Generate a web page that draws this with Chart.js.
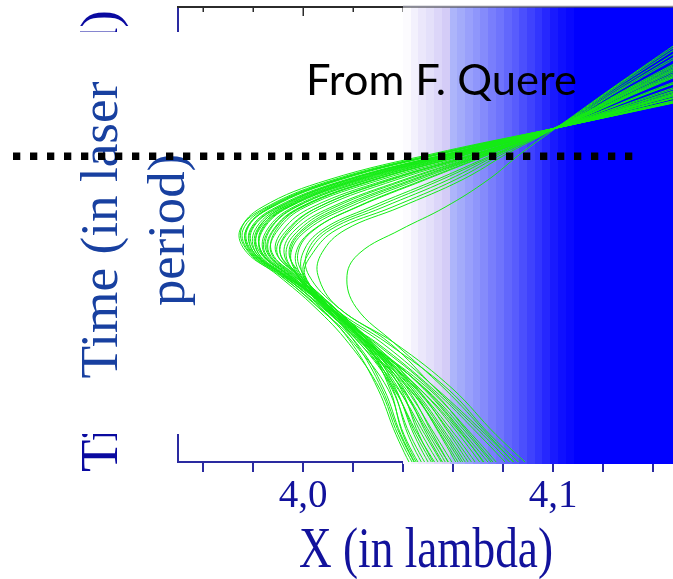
<!DOCTYPE html>
<html>
<head>
<meta charset="utf-8">
<script src="https://cdn.jsdelivr.net/npm/chart.js@4.4.1/dist/chart.umd.min.js"></script>
<style>
html,body{margin:0;padding:0;background:#fff;}
canvas{display:block;}
</style>
</head>
<body>
<canvas id="c" width="673" height="579"></canvas>
<script>
// Sample times (laser periods) shared by every electron trajectory
const times = [-0.04, 0.06, 0.16, 0.26, 0.34, 0.41, 0.46, 0.51, 0.56, 0.62, 0.68, 0.74, 0.82, 0.92];

// Electron position x(t) in lambda, one array per trajectory
const traj01 = [4.0500, 4.0404, 4.0340, 4.0204, 4.0064, 3.9908, 3.9776, 3.9748, 3.9852, 4.0120, 4.0556, 4.1064, 4.1740, 4.2604];
const traj02 = [4.0484, 4.0392, 4.0324, 4.0216, 4.0060, 3.9912, 3.9788, 3.9760, 3.9860, 4.0132, 4.0564, 4.1064, 4.1732, 4.2588];
const traj03 = [4.0528, 4.0428, 4.0356, 4.0240, 4.0096, 3.9916, 3.9792, 3.9772, 3.9876, 4.0148, 4.0576, 4.1060, 4.1684, 4.2484];
const traj04 = [4.0512, 4.0420, 4.0360, 4.0252, 4.0108, 3.9928, 3.9800, 3.9776, 3.9872, 4.0140, 4.0568, 4.1060, 4.1696, 4.2508];
const traj05 = [4.0556, 4.0452, 4.0368, 4.0244, 4.0096, 3.9928, 3.9804, 3.9792, 3.9900, 4.0176, 4.0600, 4.1056, 4.1632, 4.2368];
const traj06 = [4.0572, 4.0460, 4.0364, 4.0228, 4.0080, 3.9920, 3.9812, 3.9808, 3.9912, 4.0184, 4.0608, 4.1056, 4.1624, 4.2348];
const traj07 = [4.0584, 4.0476, 4.0384, 4.0248, 4.0100, 3.9936, 3.9820, 3.9816, 3.9924, 4.0204, 4.0620, 4.1052, 4.1576, 4.2248];
const traj08 = [4.0560, 4.0464, 4.0392, 4.0268, 4.0120, 3.9948, 3.9828, 3.9820, 3.9920, 4.0196, 4.0612, 4.1052, 4.1588, 4.2268];
const traj09 = [4.0612, 4.0504, 4.0396, 4.0252, 4.0100, 3.9944, 3.9832, 3.9840, 3.9944, 4.0232, 4.0644, 4.1048, 4.1520, 4.2128];
const traj10 = [4.0628, 4.0512, 4.0400, 4.0240, 4.0092, 3.9944, 3.9844, 3.9856, 3.9960, 4.0244, 4.0652, 4.1048, 4.1508, 4.2108];
const traj11 = [4.0640, 4.0528, 4.0412, 4.0256, 4.0104, 3.9952, 3.9848, 3.9864, 3.9968, 4.0260, 4.0664, 4.1044, 4.1468, 4.2012];
const traj12 = [4.0664, 4.0552, 4.0428, 4.0256, 4.0108, 3.9964, 3.9864, 3.9884, 3.9992, 4.0288, 4.0684, 4.1040, 4.1412, 4.1892];
const traj13 = [4.0652, 4.0548, 4.0436, 4.0276, 4.0124, 3.9972, 3.9876, 3.9892, 3.9996, 4.0284, 4.0676, 4.1040, 4.1424, 4.1916];
const traj14 = [4.0684, 4.0568, 4.0436, 4.0260, 4.0108, 3.9968, 3.9872, 3.9900, 4.0008, 4.0308, 4.0700, 4.1036, 4.1376, 4.1812];
const traj15 = [4.0724, 4.0596, 4.0452, 4.0264, 4.0104, 3.9976, 3.9896, 3.9936, 4.0060, 4.0352, 4.0716, 4.1036, 4.1356, 4.1768];
const traj16 = [4.0708, 4.0588, 4.0460, 4.0284, 4.0124, 3.9988, 3.9908, 3.9944, 4.0060, 4.0344, 4.0708, 4.1036, 4.1364, 4.1788];
const traj17 = [4.0760, 4.0624, 4.0468, 4.0264, 4.0100, 3.9980, 3.9924, 3.9968, 4.0112, 4.0400, 4.0732, 4.1032, 4.1336, 4.1724];
const traj18 = [4.0780, 4.0636, 4.0468, 4.0244, 4.0084, 3.9976, 3.9932, 3.9984, 4.0128, 4.0412, 4.0740, 4.1032, 4.1328, 4.1708];
const traj19 = [4.0800, 4.0648, 4.0488, 4.0268, 4.0092, 3.9988, 3.9948, 4.0004, 4.0164, 4.0444, 4.0748, 4.1032, 4.1316, 4.1684];
const traj20 = [4.0836, 4.0676, 4.0504, 4.0268, 4.0088, 3.9992, 3.9972, 4.0040, 4.0216, 4.0488, 4.0764, 4.1032, 4.1296, 4.1640];
const traj21 = [4.0820, 4.0668, 4.0512, 4.0292, 4.0108, 4.0004, 3.9980, 4.0044, 4.0212, 4.0480, 4.0760, 4.1032, 4.1304, 4.1652];
const traj22 = [4.0876, 4.0704, 4.0520, 4.0300, 4.0084, 4.0000, 4.0000, 4.0076, 4.0268, 4.0532, 4.0780, 4.1032, 4.1276, 4.1596];
const traj23 = [4.0916, 4.0732, 4.0536, 4.0320, 4.0110, 4.0004, 4.0024, 4.0108, 4.0320, 4.0580, 4.0796, 4.1028, 4.1256, 4.1552];
const traj24 = [4.0940, 4.0748, 4.0580, 4.0340, 4.0120, 4.0008, 4.0040, 4.0132, 4.0356, 4.0608, 4.0808, 4.1028, 4.1244, 4.1524];
const traj25 = [4.0968, 4.0772, 4.0600, 4.0370, 4.0140, 4.0060, 4.0076, 4.0168, 4.0388, 4.0636, 4.0824, 4.1028, 4.1236, 4.1508];
const traj26 = [4.0908, 4.0740, 4.0568, 4.0368, 4.0212, 4.0176, 4.0228, 4.0388, 4.0568, 4.0740, 4.0876, 4.1028, 4.1232, 4.1496];
const traj27 = [4.0492, 4.0400, 4.0348, 4.0252, 4.0108, 3.9924, 3.9796, 3.9772, 3.9868, 4.0136, 4.0568, 4.1064, 4.1720, 4.2568];
const traj28 = [4.0596, 4.0488, 4.0380, 4.0228, 4.0076, 3.9924, 3.9820, 3.9824, 3.9932, 4.0216, 4.0632, 4.1052, 4.1560, 4.2188];
const traj29 = [4.0476, 4.0380, 4.0308, 4.0184, 4.0048, 3.9900, 3.9784, 3.9752, 3.9836, 4.0100, 4.0540, 4.1064, 4.1748, 4.2620];
const traj30 = [4.0540, 4.0444, 4.0372, 4.0260, 4.0112, 3.9932, 3.9812, 3.9796, 3.9904, 4.0180, 4.0608, 4.1056, 4.1620, 4.2340];
const traj31 = [4.0600, 4.0496, 4.0404, 4.0268, 4.0112, 3.9944, 3.9836, 3.9836, 3.9940, 4.0224, 4.0636, 4.1052, 4.1540, 4.2168];
const traj32 = [4.0620, 4.0520, 4.0420, 4.0272, 4.0120, 3.9960, 3.9856, 3.9868, 3.9972, 4.0256, 4.0660, 4.1044, 4.1484, 4.2048];
const traj33 = [4.0676, 4.0560, 4.0424, 4.0236, 4.0092, 3.9956, 3.9860, 3.9880, 3.9988, 4.0276, 4.0676, 4.1040, 4.1428, 4.1928];
const traj34 = [4.0740, 4.0608, 4.0456, 4.0260, 4.0108, 3.9980, 3.9908, 3.9952, 4.0080, 4.0372, 4.0724, 4.1036, 4.1348, 4.1748];
const traj35 = [4.0772, 4.0640, 4.0484, 4.0280, 4.0108, 3.9996, 3.9944, 3.9996, 4.0148, 4.0432, 4.0744, 4.1032, 4.1324, 4.1696];
const traj36 = [4.0812, 4.0660, 4.0492, 4.0260, 4.0080, 3.9980, 3.9952, 4.0016, 4.0184, 4.0460, 4.0752, 4.1032, 4.1308, 4.1668];
const traj37 = [4.0896, 4.0720, 4.0532, 4.0350, 4.0140, 4.0024, 4.0016, 4.0092, 4.0292, 4.0552, 4.0788, 4.1032, 4.1268, 4.1580];
const traj38 = [4.0460, 4.0372, 4.0300, 4.0196, 4.0070, 3.9924, 3.9804, 3.9788, 3.9892, 4.0168, 4.0596, 4.1056, 4.1636, 4.2380];
const traj39 = [4.0484, 4.0388, 4.0316, 4.0212, 4.0088, 3.9940, 3.9836, 3.9832, 3.9936, 4.0212, 4.0628, 4.1052, 4.1556, 4.2196];
const traj40 = [4.0696, 4.0576, 4.0444, 4.0276, 4.0124, 3.9984, 3.9892, 3.9920, 4.0036, 4.0332, 4.0712, 4.1036, 4.1368, 4.1796];

const trajectories = [traj01, traj02, traj03, traj04, traj05, traj06, traj07, traj08, traj09, traj10,
  traj11, traj12, traj13, traj14, traj15, traj16, traj17, traj18, traj19, traj20,
  traj21, traj22, traj23, traj24, traj25, traj26, traj27, traj28, traj29, traj30,
  traj31, traj32, traj33, traj34, traj35, traj36, traj37, traj38, traj39, traj40];

// X axis ticks and their labels
const xTickValues = [3.96, 3.98, 4.00, 4.02, 4.04, 4.06, 4.08, 4.10, 4.12, 4.14];
const xLabelValues = [4.0, 4.1];
const xLabelTexts = ['4,0', '4,1'];

// Plasma density profile: cell left edges (lambda) and normalised density
const densityEdges = [4.0400, 4.0431, 4.0462, 4.0493, 4.0524, 4.0555, 4.0586, 4.0617, 4.0648, 4.0679,
  4.0710, 4.0741, 4.0772, 4.0803, 4.0834, 4.0865, 4.0896, 4.0927, 4.0958, 4.0989, 4.1020, 4.1051, 4.1082];
const densityLevels = [0.02, 0.07, 0.12, 0.16, 0.21, 0.26, 0.31, 0.35, 0.39, 0.43,
  0.47, 0.52, 0.56, 0.61, 0.65, 0.70, 0.75, 0.80, 0.85, 0.90, 0.94, 0.97, 1.00];

// Time marker (dotted line) and its horizontal extent in lambda
const markerTime = 0.672;
const markerFrom = 3.884;
const markerTo = 4.132;

const AXIS_BLUE = '#2a2aa0';
const LABEL_BLUE = '#12129c';

function densityColor(l) {
  let r, g, b;
  if (l < 0.3) {
    const t = l / 0.3;
    r = 255 + (205 - 255) * t; g = 255 + (196 - 255) * t; b = 255 + (246 - 255) * t;
  } else {
    const t = (l - 0.3) / 0.7;
    r = 176 * (1 - t); g = 184 * (1 - t); b = 250 + 5 * t;
  }
  return 'rgb(' + Math.round(r) + ',' + Math.round(g) + ',' + Math.round(b) + ')';
}

// Draws text from (x, y) along an optional angle, squeezed/stretched to a given length
function fitText(ctx, text, x, y, length, font, color, angle) {
  ctx.save();
  ctx.font = font;
  ctx.fillStyle = color;
  ctx.textAlign = 'left';
  ctx.textBaseline = 'alphabetic';
  ctx.translate(x, y);
  if (angle) ctx.rotate(angle);
  const w = ctx.measureText(text).width;
  ctx.scale(length / w, 1);
  ctx.fillText(text, 0, 0);
  ctx.restore();
}

const backdrop = {
  id: 'backdrop',
  beforeDatasetsDraw(chart) {
    const { ctx, chartArea: a, scales: { x } } = chart;
    ctx.save();
    // top frame line with inward ticks
    ctx.strokeStyle = '#2b2b2b';
    ctx.lineWidth = 2;
    ctx.beginPath();
    ctx.moveTo(a.left - 1, a.top);
    ctx.lineTo(a.right, a.top);
    ctx.stroke();
    ctx.lineWidth = 1.5;
    xTickValues.forEach(v => {
      const px = Math.round(x.getPixelForValue(v)) + 0.25;
      const len = xLabelValues.some(l => Math.abs(l - v) < 1e-9) ? 9 : 5;
      ctx.beginPath();
      ctx.moveTo(px, a.top);
      ctx.lineTo(px, a.top + len);
      ctx.stroke();
    });
    // density bands
    for (let i = 0; i < densityEdges.length; i++) {
      const x0 = Math.round(x.getPixelForValue(densityEdges[i]));
      const x1 = i + 1 < densityEdges.length ? Math.round(x.getPixelForValue(densityEdges[i + 1])) : a.right;
      ctx.fillStyle = densityColor(densityLevels[i]);
      ctx.fillRect(x0, a.top + 0.5, x1 - x0, a.bottom - a.top + 1.5);
    }
    ctx.restore();
  },
  afterDatasetsDraw(chart) {
    const { ctx, chartArea: a, scales: { x, y } } = chart;
    ctx.save();
    // grey frame over the dense region
    const bandLeft = Math.round(x.getPixelForValue(densityEdges[0]));
    ctx.strokeStyle = '#8a8a96';
    ctx.lineWidth = 1.5;
    ctx.beginPath();
    ctx.moveTo(bandLeft, a.top - 0.5);
    ctx.lineTo(a.right, a.top - 0.5);
    ctx.stroke();

    // axis title, single line underneath
    fitText(ctx, 'Time (in laser period)', 117, 472, 462, '52px "Liberation Serif"', '#0a0aa0', -Math.PI / 2);
    // white label box
    ctx.fillStyle = '#ffffff';
    ctx.fillRect(40, 32, 166, 402);
    // axis title, two lines on the box
    fitText(ctx, 'Time (in laser', 117, 378.5, 297, '52px "Liberation Serif"', '#1840a0', -Math.PI / 2);
    fitText(ctx, 'period)', 184, 306, 152, '52px "Liberation Serif"', '#1840a0', -Math.PI / 2);

    // credit
    fitText(ctx, 'From F. Quere', 306, 95, 271, '42px Lato', '#000000', 0);

    // dotted time marker
    const yp = y.getPixelForValue(markerTime);
    ctx.setLineDash([7.3, 9.7]);
    ctx.lineWidth = 7.3;
    ctx.lineCap = 'butt';
    ctx.strokeStyle = '#000000';
    ctx.beginPath();
    ctx.moveTo(x.getPixelForValue(markerFrom), yp);
    ctx.lineTo(x.getPixelForValue(markerTo), yp);
    ctx.stroke();
    ctx.setLineDash([]);

    // x axis title
    fitText(ctx, 'X (in lambda)', 299, 567, 254, '56px "Liberation Serif"', LABEL_BLUE, 0);
    ctx.restore();
  }
};

const datasets = trajectories.map(xs => ({
  data: times.map((t, i) => ({ x: xs[i], y: t })),
  showLine: true,
  borderColor: '#14ec14',
  borderWidth: 1,
  pointRadius: 0,
  pointHoverRadius: 0,
  tension: 0.4,
  fill: false
}));

new Chart(document.getElementById('c'), {
  type: 'scatter',
  data: { datasets },
  options: {
    responsive: false,
    animation: false,
    devicePixelRatio: 1,
    events: [],
    layout: { padding: { top: 7, left: 0, right: 0, bottom: 0 } },
    plugins: { legend: { display: false }, tooltip: { enabled: false } },
    scales: {
      x: {
        type: 'linear',
        position: 'bottom',
        min: 3.95,
        max: 4.148,
        afterBuildTicks: s => { s.ticks = xTickValues.map(v => ({ value: v })); },
        afterFit: s => { s.height = 117; },
        ticks: {
          autoSkip: false,
          maxRotation: 0,
          padding: 1,
          color: LABEL_BLUE,
          font: { family: '"Liberation Serif"', size: 39 },
          callback: v => {
            const k = xLabelValues.findIndex(l => Math.abs(l - v) < 1e-9);
            return k >= 0 ? xLabelTexts[k] : '';
          }
        },
        grid: { drawOnChartArea: false, drawTicks: true, tickLength: 10, color: AXIS_BLUE, lineWidth: 2 },
        border: { color: AXIS_BLUE, width: 2 }
      },
      y: {
        type: 'linear',
        position: 'left',
        min: 0,
        max: 1,
        afterFit: s => { s.width = 178; },
        ticks: { display: false },
        grid: { display: false, drawTicks: false },
        border: { display: true, color: AXIS_BLUE, width: 2 }
      }
    }
  },
  plugins: [backdrop]
});
</script>
</body>
</html>
